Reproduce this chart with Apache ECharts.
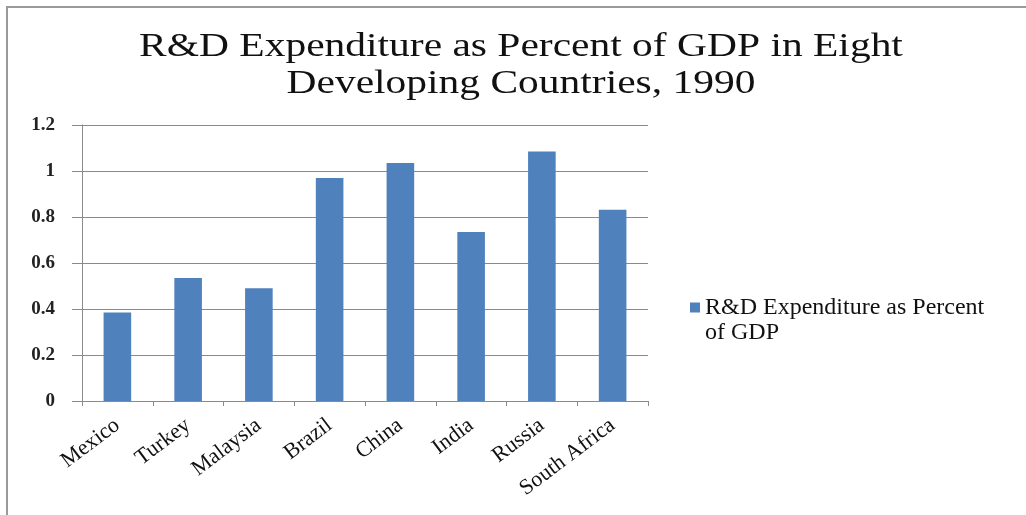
<!DOCTYPE html>
<html>
<head>
<meta charset="utf-8">
<title>R&amp;D Expenditure as Percent of GDP</title>
<script src="https://cdn.jsdelivr.net/npm/echarts@6/dist/echarts.min.js"></script>
<style>
  html, body { margin: 0; padding: 0; background: #ffffff; }
  #chart { width: 1026px; height: 515px; }
</style>
</head>
<body>
<div id="chart"></div>
<script>
// Countries on the category axis
const countries = ['Mexico', 'Turkey', 'Malaysia', 'Brazil', 'China', 'India', 'Russia', 'South Africa'];
// R&D spending as a share of GDP (%), 1990
const rdShare = [0.385, 0.535, 0.49, 0.97, 1.035, 0.735, 1.085, 0.832];
const seriesName = 'R&D Expenditure as Percent of GDP';
const chartTitle = 'R&D Expenditure as Percent of GDP in Eight\nDeveloping Countries, 1990';

const serif = '"Liberation Serif", "Times New Roman", serif';
const gridGray = '#8a8a8a';

// Legend swatch: a 10x10 square sitting at the top of a taller icon box,
// so it lines up with the first line of the wrapped legend label.
const legendSwatch = 'path://M0,0h10v10h-10zM0,34.99h10v0.01h-10z';

const chart = echarts.init(document.getElementById('chart'));
chart.setOption({
  animation: false,
  backgroundColor: '#ffffff',
  graphic: [
    {
      // chart frame
      type: 'rect',
      shape: { x: 7, y: 7, width: 1040, height: 530 },
      style: { fill: 'none', stroke: '#9a9a9a', lineWidth: 2 },
      silent: true
    },
    {
      // two-line heading, set slightly wide
      type: 'text',
      x: 521,
      y: 29,
      scaleX: 1.22,
      silent: true,
      style: {
        text: chartTitle,
        font: '34px ' + serif,
        fill: '#111111',
        align: 'center',
        verticalAlign: 'top',
        lineHeight: 37
      }
    }
  ],
  legend: {
    orient: 'vertical',
    left: 685,
    top: 290,
    itemWidth: 10,
    itemHeight: 35,
    itemGap: 0,
    icon: legendSwatch,
    formatter: () => 'R&D Expenditure as Percent\nof GDP',
    textStyle: {
      fontFamily: serif,
      fontSize: 24,
      lineHeight: 25,
      color: '#111111'
    }
  },
  grid: { left: 82, right: 378, top: 125, bottom: 114 },
  xAxis: {
    type: 'category',
    data: countries,
    axisLine: { lineStyle: { color: gridGray, width: 1 } },
    axisTick: { show: true, length: 5, alignWithLabel: false, lineStyle: { color: gridGray } },
    axisLabel: {
      rotate: 37,
      margin: 22,
      interval: 0,
      fontFamily: serif,
      fontSize: 22,
      color: '#111111'
    }
  },
  yAxis: {
    type: 'value',
    min: 0,
    max: 1.2,
    interval: 0.2,
    axisLine: { show: true, lineStyle: { color: gridGray, width: 1 } },
    axisTick: { show: true, length: 10, lineStyle: { color: gridGray } },
    splitLine: { lineStyle: { color: gridGray, width: 1 } },
    axisLabel: {
      margin: 27,
      fontFamily: serif,
      fontSize: 19,
      fontWeight: 'bold',
      color: '#222222'
    }
  },
  series: [{
    name: seriesName,
    type: 'bar',
    data: rdShare,
    barWidth: '39%',
    itemStyle: { color: '#4f81bd' }
  }]
});
</script>
</body>
</html>
